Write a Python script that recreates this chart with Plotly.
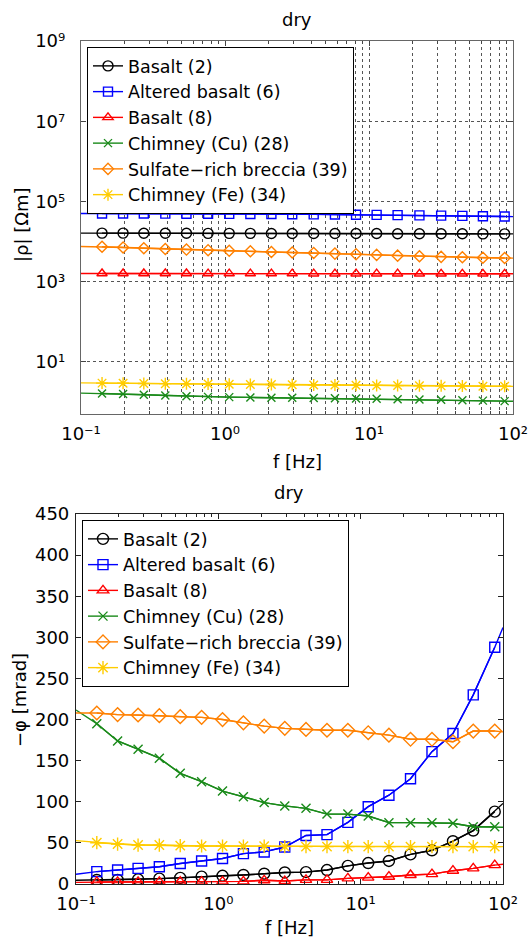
import plotly.graph_objects as go

W, H = 529, 938

# ---------------- data ----------------
freq = [0.14, 0.196, 0.273, 0.385, 0.54, 0.763, 1.07, 1.5, 2.1, 2.93,
        4.13, 5.8, 8.13, 11.3, 15.8, 22.4, 31.7, 44.5, 61.8, 87.5]
f_edges = [0.1, 100]

names = ["Basalt (2)", "Altered basalt (6)", "Basalt (8)",
         "Chimney (Cu) (28)", "Sulfate\u2212rich breccia (39)", "Chimney (Fe) (34)"]
colors = ["#000000", "#0000ff", "#ff0000", "#1a8a1a", "#ff8000", "#ffcc00"]
symbols = ["circle-open", "square-open", "triangle-up-open",
           "x-thin-open", "diamond-open", "asterisk-open"]

# |rho| [Ohm m]
rho_basalt2 = [16200, 16200, 16100, 16100, 16100, 16000, 16000, 16000, 15900, 15900,
               15900, 15800, 15800, 15800, 15700, 15700, 15600, 15600, 15500, 15500]
rho_basalt2_edges = [16200, 15500]
rho_altered6 = [50000, 50000, 49800, 49600, 49400, 49200, 49000, 48700, 48400, 48000,
                47600, 47200, 46700, 46200, 45600, 45000, 44300, 43600, 42800, 42000]
rho_altered6_edges = [50000, 41800]
rho_basalt8 = [1600, 1600, 1600, 1600, 1600, 1590, 1590, 1590, 1590, 1590,
               1580, 1580, 1580, 1580, 1580, 1570, 1570, 1570, 1570, 1570]
rho_basalt8_edges = [1600, 1570]
rho_cu28 = [1.63, 1.57, 1.51, 1.45, 1.39, 1.34, 1.32, 1.30, 1.28, 1.27,
            1.26, 1.24, 1.22, 1.20, 1.17, 1.15, 1.13, 1.11, 1.08, 1.05]
rho_cu28_edges = [1.66, 1.04]
rho_sulf39 = [7400, 7100, 6800, 6500, 6300, 6100, 5900, 5700, 5500, 5350,
              5200, 5000, 4800, 4650, 4450, 4300, 4150, 4050, 3950, 3900]
rho_sulf39_edges = [7500, 3850]
rho_fe34 = [2.95, 2.92, 2.89, 2.86, 2.83, 2.80, 2.77, 2.74, 2.72, 2.69,
            2.66, 2.64, 2.61, 2.59, 2.56, 2.54, 2.52, 2.50, 2.48, 2.46]
rho_fe34_edges = [3.0, 2.45]

# -phi [mrad]
phi_basalt2 = [4.9, 5.0, 5.7, 6.5, 7.5, 9.0, 10.0, 11.0, 12.5, 14.0,
               14.5, 17, 22, 25.5, 28, 36, 41, 52, 65, 88]
phi_basalt2_edges = [4.5, 98]
phi_altered6 = [15, 17, 19, 21, 25, 28, 31, 37, 39, 45,
                59, 60, 75, 94, 108, 128, 161, 183, 230, 288]
phi_altered6_edges = [11.8, 312]
phi_basalt8 = [2.5, 2.5, 2.5, 2.7, 2.8, 3.0, 3.0, 3.2, 4.5, 3.6,
               5, 5, 6.9, 7.7, 8.9, 11, 12, 16.2, 19, 23]
phi_basalt8_edges = [2.0, 24]
phi_cu28 = [195, 174, 164, 153, 134.6, 124.4, 113, 106, 99, 95,
            92, 85, 85, 82.7, 74.6, 74.6, 74.6, 73.8, 69.7, 69.7]
phi_cu28_edges = [211.6, 69]
phi_sulf39 = [208, 206, 205.5, 204.7, 203.5, 202.7, 200, 196, 192, 189.3,
              188, 187, 187, 184, 181, 176, 176, 173, 186, 186]
phi_sulf39_edges = [208, 185]
phi_fe34 = [50.2, 48.6, 47.4, 47.4, 46.6, 46.2, 46.2, 46, 46, 45.4,
            45.4, 45.4, 45.4, 45.4, 45.4, 45.4, 45.4, 45.4, 45.4, 45.4]
phi_fe34_edges = [52.7, 45.4]

rho_series = [(rho_basalt2, rho_basalt2_edges), (rho_altered6, rho_altered6_edges),
              (rho_basalt8, rho_basalt8_edges), (rho_cu28, rho_cu28_edges),
              (rho_sulf39, rho_sulf39_edges), (rho_fe34, rho_fe34_edges)]
phi_series = [(phi_basalt2, phi_basalt2_edges), (phi_altered6, phi_altered6_edges),
              (phi_basalt8, phi_basalt8_edges), (phi_cu28, phi_cu28_edges),
              (phi_sulf39, phi_sulf39_edges), (phi_fe34, phi_fe34_edges)]

sizes_top = [10, 9, 9, 8, 8.5, 10]
sizes_bot = [11, 10, 10, 9, 10.5, 11]

xmajor = [0.1, 1, 10, 100]
xmajor_text = ["10\u207b\u00b9", "10\u2070", "10\u00b9", "10\u00b2"]
xminor = [0.2, 0.3, 0.4, 0.5, 0.6, 0.7, 0.8, 0.9, 2, 3, 4, 5, 6, 7, 8, 9,
          20, 30, 40, 50, 60, 70, 80, 90]
ymajor_top = [10, 1e3, 1e5, 1e7, 1e9]
ymajor_top_text = ["10\u00b9", "10\u00b3", "10\u2075", "10\u2077", "10\u2079"]
ymajor_bot = [0, 50, 100, 150, 200, 250, 300, 350, 400, 450]

FONT = "DejaVu Sans, Liberation Sans, Arial, sans-serif"
FS = 18
FS_LEG = 17.5

fig = go.Figure()

def add_series(series, sizes, xa, ya, legend):
    for i, (vals, edges) in enumerate(series):
        fig.add_trace(go.Scatter(
            x=[f_edges[0]] + freq + [f_edges[1]],
            y=[edges[0]] + vals + [edges[1]],
            mode="lines", line=dict(color=colors[i], width=1.4),
            showlegend=False, hoverinfo="skip", xaxis=xa, yaxis=ya))
        fig.add_trace(go.Scatter(
            x=freq, y=vals, mode="lines+markers", name=names[i],
            line=dict(color=colors[i], width=1.4),
            marker=dict(symbol=symbols[i], size=sizes[i], color=colors[i],
                        line=dict(color=colors[i], width=1.4)),
            legend=legend, xaxis=xa, yaxis=ya))

add_series(rho_series, sizes_top, "x", "y", "legend")
add_series(phi_series, sizes_bot, "x2", "y2", "legend2")

def px(x):
    return x / W

def py(y):
    return 1 - y / H

grid_dash = "3px,3px"
grid_col = "#555555"

axis_common = dict(showline=True, mirror="ticks", ticks="inside", automargin=False,
                   tickfont=dict(family=FONT, size=FS, color="#000"),
                   zeroline=False)

fig.update_layout(
    width=W, height=H,
    margin=dict(l=0, r=0, t=0, b=0, autoexpand=False),
    paper_bgcolor="white", plot_bgcolor="white",
    font=dict(family=FONT, size=FS, color="#000"),
    xaxis=dict(axis_common, type="log", range=[-1, 2],
               domain=[px(81), px(513)], anchor="y",
               linecolor="#666666", linewidth=1.2,
               tickvals=xmajor, ticktext=xmajor_text, ticklen=5, tickcolor="#444",
               showgrid=True, gridcolor=grid_col, griddash=grid_dash, gridwidth=1,
               ticklabelstandoff=3,
               minor=dict(tickvals=xminor, ticks="inside", ticklen=3, tickcolor="#444",
                          showgrid=True, gridcolor=grid_col, griddash=grid_dash, gridwidth=1)),
    yaxis=dict(axis_common, type="log", range=[-0.3, 9],
               domain=[py(414), py(41)], anchor="x",
               linecolor="#666666", linewidth=1.2,
               tickvals=ymajor_top, ticktext=ymajor_top_text, ticklen=5, tickcolor="#444",
               showgrid=True, gridcolor=grid_col, griddash=grid_dash, gridwidth=1,
               ticklabelstandoff=11),
    xaxis2=dict(axis_common, type="log", range=[-1, 2],
                domain=[px(76), px(503)], anchor="y2",
                linecolor="#222222", linewidth=1.2,
                tickvals=xmajor, ticktext=xmajor_text, ticklen=5, tickcolor="#222",
                showgrid=False, ticklabelstandoff=3,
                minor=dict(tickvals=xminor, ticks="inside", ticklen=3, tickcolor="#222",
                           showgrid=False)),
    yaxis2=dict(axis_common, type="linear", range=[0, 450],
                domain=[py(884), py(514)], anchor="x2",
                linecolor="#222222", linewidth=1.2,
                tickvals=ymajor_bot,
                ticklen=5, tickcolor="#222", showgrid=False,
                ticklabelstandoff=2),
    legend=dict(x=px(87), y=py(47), xanchor="left", yanchor="top",
                bgcolor="white", bordercolor="#000", borderwidth=1,
                font=dict(family=FONT, size=FS_LEG, color="#000"),
                tracegroupgap=0, itemsizing="trace"),
    legend2=dict(x=px(82), y=py(520), xanchor="left", yanchor="top",
                 bgcolor="white", bordercolor="#000", borderwidth=1,
                 font=dict(family=FONT, size=FS_LEG, color="#000"),
                 tracegroupgap=0, itemsizing="trace"),
    annotations=[
        dict(text="dry", x=px(297), y=py(20), xref="paper", yref="paper",
             showarrow=False, xanchor="center", yanchor="middle",
             font=dict(family=FONT, size=FS)),
        dict(text="f [Hz]", x=px(297), y=py(461), xref="paper", yref="paper",
             showarrow=False, xanchor="center", yanchor="middle",
             font=dict(family=FONT, size=FS)),
        dict(text="|\u03c1| [\u03a9m]", x=px(21), y=py(225), xref="paper", yref="paper",
             showarrow=False, xanchor="center", yanchor="middle", textangle=-90,
             font=dict(family=FONT, size=FS)),
        dict(text="dry", x=px(289), y=py(492), xref="paper", yref="paper",
             showarrow=False, xanchor="center", yanchor="middle",
             font=dict(family=FONT, size=FS)),
        dict(text="f [Hz]", x=px(289), y=py(927), xref="paper", yref="paper",
             showarrow=False, xanchor="center", yanchor="middle",
             font=dict(family=FONT, size=FS)),
        dict(text="\u2212\u03c6 [mrad]", x=px(19), y=py(700), xref="paper", yref="paper",
             showarrow=False, xanchor="center", yanchor="middle", textangle=-90,
             font=dict(family=FONT, size=FS)),
    ],
)

fig.write_html("out.html")
